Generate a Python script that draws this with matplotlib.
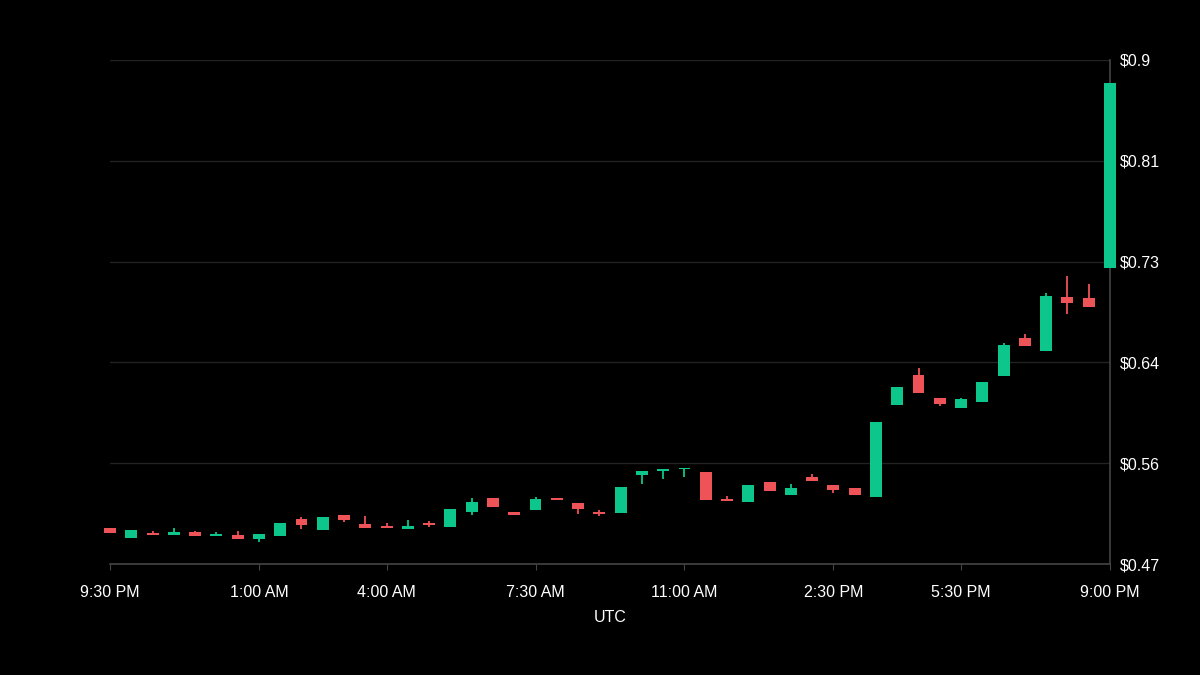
import numpy as np
import matplotlib
matplotlib.use("Agg")
import matplotlib.pyplot as plt

# 30 minute candles, hours after 9:30 PM UTC
hours = np.arange(48) * 0.5

opens = [0.5007, 0.4922, 0.4965, 0.4945, 0.4970, 0.4937, 0.4945, 0.4910, 0.4937, 0.5084,
         0.4989, 0.5118, 0.5041, 0.5024, 0.5001, 0.5052, 0.5018, 0.5141, 0.5260, 0.5144,
         0.5161, 0.5266, 0.5223, 0.5141, 0.5133, 0.5459, 0.5491, 0.5510, 0.5485, 0.5252,
         0.5231, 0.5397, 0.5286, 0.5445, 0.5371, 0.5346, 0.5274, 0.6059, 0.6312, 0.6113,
         0.6028, 0.6082, 0.6306, 0.6628, 0.6520, 0.6980, 0.6969, 0.7222]
closes = [0.4965, 0.4990, 0.4950, 0.4970, 0.4937, 0.4954, 0.4910, 0.4960, 0.5050, 0.5033,
          0.5102, 0.5075, 0.5005, 0.5005, 0.5022, 0.5033, 0.5169, 0.5232, 0.5189, 0.5116,
          0.5257, 0.5246, 0.5167, 0.5124, 0.5357, 0.5496, 0.5508, 0.5521, 0.5243, 0.5235,
          0.5371, 0.5325, 0.5346, 0.5408, 0.5331, 0.5289, 0.5911, 0.6210, 0.6156, 0.6062,
          0.6105, 0.6252, 0.6566, 0.6560, 0.6989, 0.6924, 0.6895, 0.8803]
highs = [0.5007, 0.4990, 0.4980, 0.5005, 0.4980, 0.4970, 0.4980, 0.4960, 0.5050, 0.5100,
         0.5102, 0.5118, 0.5110, 0.5052, 0.5078, 0.5065, 0.5169, 0.5260, 0.5260, 0.5144,
         0.5269, 0.5266, 0.5223, 0.5161, 0.5357, 0.5496, 0.5508, 0.5521, 0.5485, 0.5280,
         0.5371, 0.5397, 0.5385, 0.5468, 0.5371, 0.5346, 0.5911, 0.6210, 0.6372, 0.6113,
         0.6119, 0.6252, 0.6585, 0.6662, 0.7015, 0.7157, 0.7089, 0.8803]
lows = [0.4965, 0.4922, 0.4950, 0.4945, 0.4937, 0.4937, 0.4910, 0.4890, 0.4937, 0.4996,
        0.4989, 0.5058, 0.5005, 0.5005, 0.5001, 0.5016, 0.5018, 0.5120, 0.5189, 0.5116,
        0.5161, 0.5246, 0.5127, 0.5112, 0.5133, 0.5385, 0.5425, 0.5440, 0.5243, 0.5235,
        0.5231, 0.5325, 0.5286, 0.5408, 0.5303, 0.5289, 0.5274, 0.6059, 0.6156, 0.6048,
        0.6028, 0.6082, 0.6306, 0.6560, 0.6520, 0.6833, 0.6895, 0.7222]

xtick_pos = [0, 3.5, 6.5, 10, 13.5, 17, 20, 23.5]
xtick_labels = ["9:30 PM", "1:00 AM", "4:00 AM", "7:30 AM", "11:00 AM", "2:30 PM", "5:30 PM", "9:00 PM"]
ytick_pos = [0.47, 0.556, 0.642, 0.728, 0.814, 0.9]
ytick_labels = ["$0.47", "$0.56", "$0.64", "$0.73", "$0.81", "$0.9"]

green = "#0cc68c"
red = "#ee5357"

plt.rcParams['font.family'] = ['Liberation Sans', 'DejaVu Sans']

fig = plt.figure(figsize=(12, 6.75), dpi=100, facecolor="black")
ax = fig.add_axes([110 / 1200, 111 / 675, 1000 / 1200, 504 / 675], facecolor="black")

o = np.array(opens)
c = np.array(closes)
colors = [green if cc >= oo else red for oo, cc in zip(o, c)]

ax.vlines(hours, lows, highs, colors=colors, linewidth=1.3, zorder=3, clip_on=False)
ax.bar(hours, c - o, bottom=o, width=0.28, color=colors, zorder=4, clip_on=False)

ax.set_xlim(0, 23.5)
ax.set_ylim(0.47, 0.9)

ax.set_yticks(ytick_pos)
ax.set_yticklabels(ytick_labels)
ax.yaxis.tick_right()
ax.tick_params(axis="y", length=0, pad=7, labelcolor="white", labelsize=11.5)
ax.set_xticks(xtick_pos)
ax.set_xticklabels(xtick_labels)
ax.tick_params(axis="x", length=4, color="#444444", pad=11, labelcolor="white", labelsize=11.5)
ax.set_xlabel("UTC", color="white", fontsize=11.5, labelpad=7)

ax.grid(axis="y", color="#222222", linewidth=1)
ax.set_axisbelow(True)
for side in ["top", "left"]:
    ax.spines[side].set_visible(False)
for side in ["bottom", "right"]:
    ax.spines[side].set_color("#444444")
    ax.spines[side].set_linewidth(1.2)

fig.savefig("out.png", dpi=100, facecolor="black")
